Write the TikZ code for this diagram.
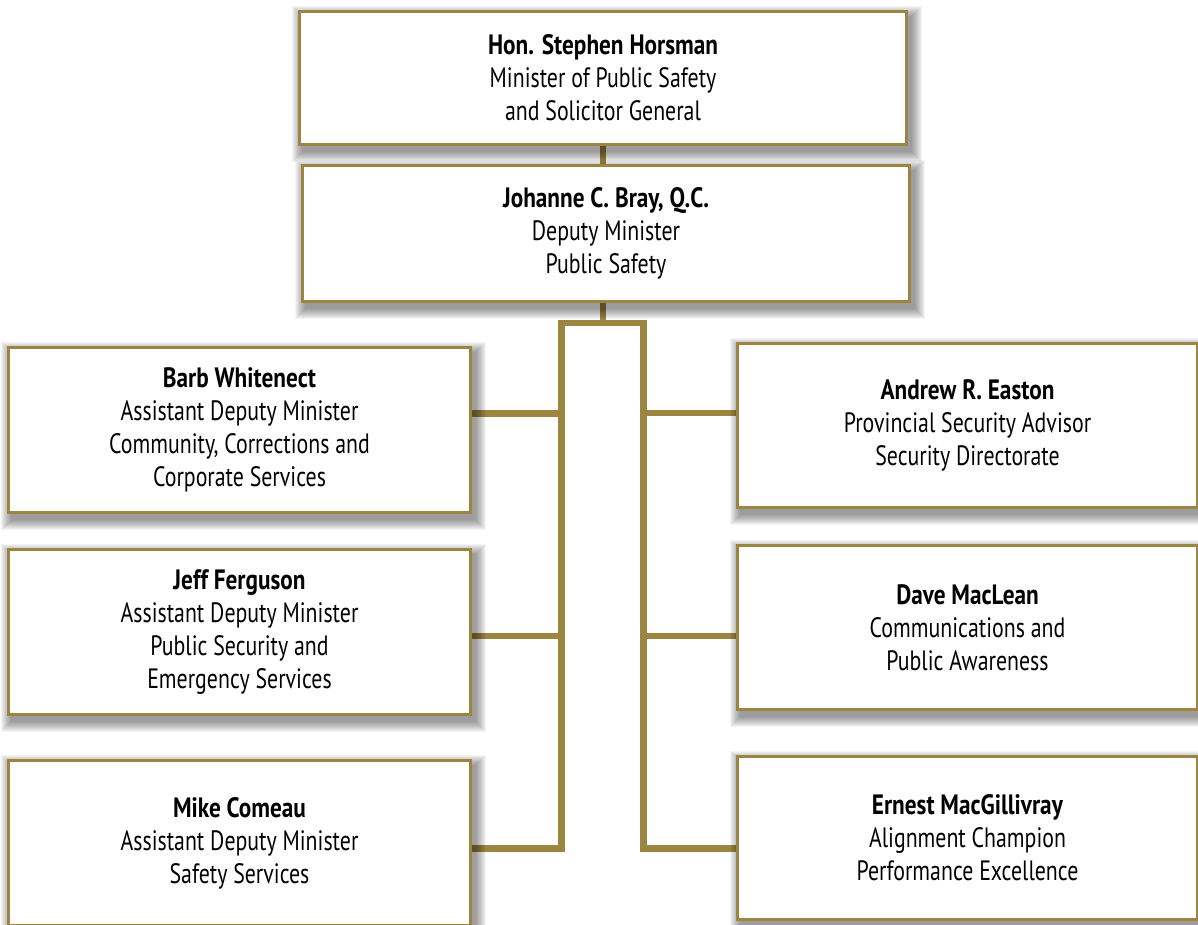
\documentclass[tikz,border=0pt]{standalone}
\usepackage{fontspec}
\setmainfont[FakeStretch=0.78,BoldFeatures={FakeStretch=0.83}]{PT Sans}
\definecolor{gold}{RGB}{155,133,64}
\pgfdeclarelayer{conn}
\pgfdeclarelayer{shad}
\pgfsetlayers{conn,shad,main}
\tikzset{
  orgbox/.style={draw=gold, line width=3pt, fill=white, align=center, inner sep=0pt,
    font=\fontsize{28}{33}\selectfont},
  bus/.style={draw=gold, line width=6.5pt, line join=miter}
}
\begin{document}
\begin{tikzpicture}[x=1pt,y=-1pt]
\useasboundingbox (0,0) rectangle (1198,924);
\node[orgbox, minimum width=607pt, minimum height=133pt] (top) at (603,78)
  {\textbf{Hon. Stephen Horsman}\\Minister of Public Safety\\and Solicitor General};
\node[orgbox, minimum width=607pt, minimum height=136pt] (sec) at (606,233.5)
  {\textbf{Johanne C. Bray, Q.C.}\\Deputy Minister\\Public Safety};
\node[orgbox, minimum width=462pt, minimum height=165pt] (barb) at (239.5,430)
  {\textbf{Barb Whitenect}\\Assistant Deputy Minister\\Community, Corrections and\\Corporate Services};
\node[orgbox, minimum width=462pt, minimum height=165pt] (jeff) at (239.5,632)
  {\textbf{Jeff Ferguson}\\Assistant Deputy Minister\\Public Security and\\Emergency Services};
\node[orgbox, minimum width=462pt, minimum height=165pt] (mike) at (239.5,843)
  {\textbf{Mike Comeau}\\Assistant Deputy Minister\\Safety Services};
\node[orgbox, minimum width=460pt, minimum height=164pt] (andrew) at (967.5,425.5)
  {\textbf{Andrew R. Easton}\\Provincial Security Advisor\\Security Directorate};
\node[orgbox, minimum width=460pt, minimum height=164pt] (dave) at (967.5,627.5)
  {\textbf{Dave MacLean}\\Communications and\\Public Awareness};
\node[orgbox, minimum width=460pt, minimum height=163pt] (ernest) at (967.5,838)
  {\textbf{Ernest MacGillivray}\\Alignment Champion\\Performance Excellence};

\coordinate (hub) at (603,323);
\coordinate (tl) at (561.5,323);
\coordinate (tr) at (643.5,323);
\coordinate (lb) at (561.5,848.5);
\coordinate (rb) at (643.5,848.5);
\coordinate (l1) at (561.5,413.5);
\coordinate (l2) at (561.5,636);
\coordinate (r1) at (643.5,413);
\coordinate (r2) at (643.5,636);

\begin{pgfonlayer}{conn}
\draw[bus] (top.south -| hub) -- (sec.north -| hub);
\draw[bus] (sec.south -| hub) -- (hub);
\draw[bus] (mike.east |- lb) -- (lb) -- (tl) -- (tr) -- (rb) -- (ernest.west |- rb);
\draw[bus] (barb.east |- l1) -- (l1);
\draw[bus] (jeff.east |- l2) -- (l2);
\draw[bus] (r1) -- (andrew.west |- r1);
\draw[bus] (r2) -- (dave.west |- r2);
\end{pgfonlayer}

\begin{pgfonlayer}{shad}
\foreach \n in {top,sec,barb,jeff,mike,andrew,dave,ernest}{
  \foreach \e in {10,9,...,0}{
    \fill[black,opacity=0.045] ([shift={(4-\e,6-\e)}]\n.north west) rectangle ([shift={(4+\e,6+\e)}]\n.south east);
  }
}
\end{pgfonlayer}
\end{tikzpicture}
\end{document}
